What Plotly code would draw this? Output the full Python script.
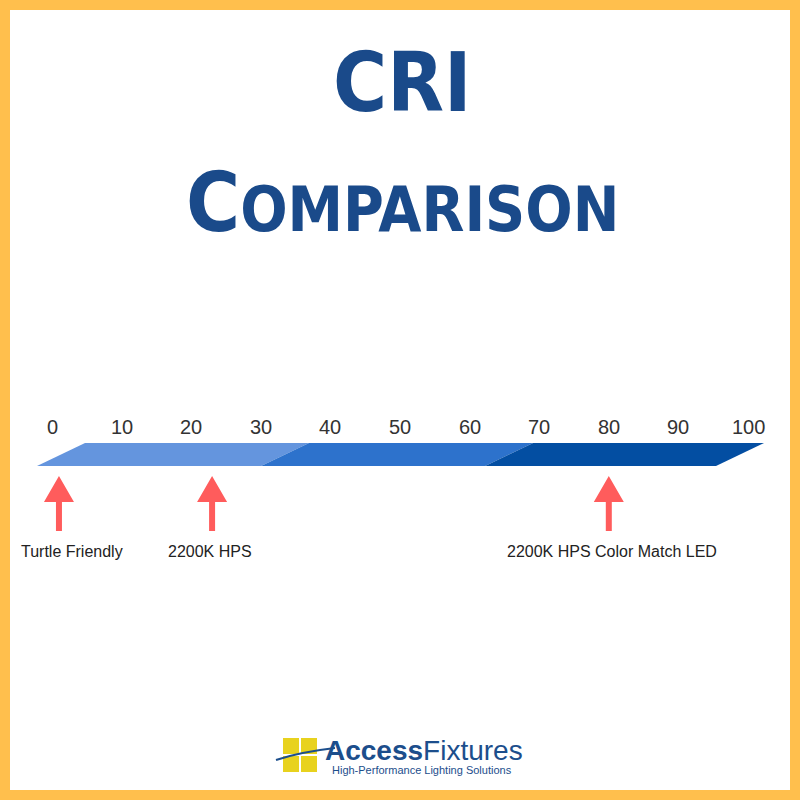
import plotly.graph_objects as go

tick_values = [0, 10, 20, 30, 40, 50, 60, 70, 80, 90, 100]
tick_labels = ["0", "10", "20", "30", "40", "50", "60", "70", "80", "90", "100"]
band_edges = [0, 33, 66, 100]
band_colors = ["#6495DE", "#2D72CC", "#034EA2"]
light_names = ["Turtle Friendly", "2200K HPS", "2200K HPS Color Match LED"]
light_cri = [1, 23, 80]
label_x_px = [72, 210, 612]

X0, K = 52, 6.96
def px(v): return X0 + K * v

fig = go.Figure()
shapes = []
shapes.append(dict(type="rect", x0=5, x1=795, y0=5, y1=795,
                   line=dict(color="#FFBF4D", width=10), fillcolor="white", layer="below"))
top, bot, slant = 443, 466, 48
left_bot = 37
def xb(v):
    return left_bot + (716 - left_bot) * v / 100
for i in range(3):
    x0b, x1b = xb(band_edges[i]), xb(band_edges[i+1])
    path = f"M {x0b} {bot} L {x0b+slant} {top} L {x1b+slant} {top} L {x1b} {bot} Z"
    shapes.append(dict(type="path", path=path, fillcolor=band_colors[i], line=dict(width=0)))
for v in light_cri:
    x = px(v)
    path = (f"M {x-3} 531 L {x-3} 502 L {x-15} 502 L {x} 476 L {x+15} 502 "
            f"L {x+3} 502 L {x+3} 531 Z")
    shapes.append(dict(type="path", path=path, fillcolor="#FF5C5C", line=dict(width=0)))
for (sx, sy) in [(283, 738), (301, 738), (283, 756), (301, 756)]:
    shapes.append(dict(type="rect", x0=sx, x1=sx+16, y0=sy, y1=sy+16,
                       fillcolor="#E8D21E", line=dict(width=0)))
shapes.append(dict(type="path", path="M 276 760 Q 300 752 335 748",
                   line=dict(color="#1C4E8C", width=2)))

ann = []
for v, t in zip(tick_values, tick_labels):
    ann.append(dict(x=px(v), y=427, text=t, showarrow=False,
                    font=dict(family="Liberation Sans", size=20, color="#333")))
for name, lx in zip(light_names, label_x_px):
    ann.append(dict(x=lx, y=551, text=name, showarrow=False,
                    font=dict(family="Liberation Sans", size=16, color="#222")))
title_font = "DejaVu Sans Condensed"
ann.append(dict(x=402, y=82, text="<b>CRI</b>", showarrow=False,
                font=dict(family=title_font, size=82, color="#1A4A8A")))
ann.append(dict(x=402, y=202, showarrow=False,
                text="<b><span style='font-size:82px'>C</span>OMPARISON</b>",
                font=dict(family=title_font, size=62, color="#1A4A8A")))
ann.append(dict(x=424, y=750, text="<b>Access</b>Fixtures", showarrow=False,
                font=dict(family="Liberation Sans", size=28, color="#1C4E8C")))
ann.append(dict(x=422, y=770, text="High-Performance Lighting Solutions", showarrow=False,
                font=dict(family="Liberation Sans", size=11, color="#1C4E8C")))

fig.update_layout(width=800, height=800, margin=dict(l=0, r=0, t=0, b=0),
                  paper_bgcolor="#FFBF4D", plot_bgcolor="white", showlegend=False,
                  shapes=shapes, annotations=ann,
                  xaxis=dict(range=[0, 800], visible=False, fixedrange=True),
                  yaxis=dict(range=[800, 0], visible=False, fixedrange=True))
fig.add_trace(go.Scatter(x=[px(v) for v in light_cri], y=[600]*3, mode="markers",
                         marker=dict(opacity=0), hoverinfo="skip"))
fig.write_html("out.html", config={"displayModeBar": False},
               post_script="document.body.style.margin='0';document.body.style.overflow='hidden';")
